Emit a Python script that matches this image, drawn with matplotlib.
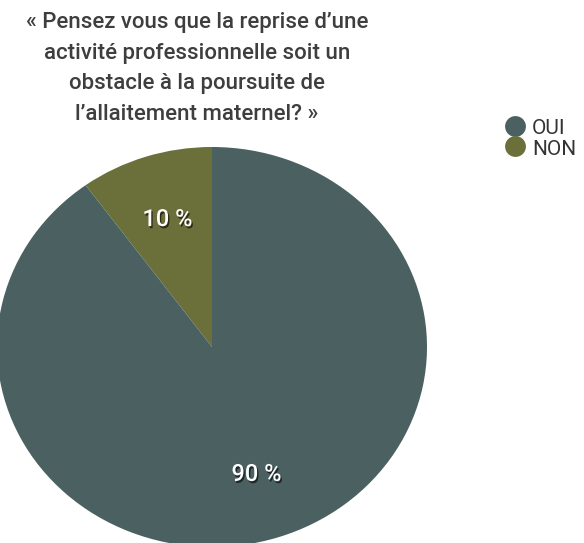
import numpy as np
import matplotlib.pyplot as plt
import matplotlib.patheffects as pe
from matplotlib.lines import Line2D

plt.rcParams['font.family'] = ['Roboto', 'DejaVu Sans']

labels = ["NON", "OUI"]
values = [10, 90]
colors = ["#6b703b", "#4a6061"]
title = ("« Pensez vous que la reprise d\u2019une\nactivité professionnelle soit un\n"
         "obstacle à la poursuite de\nl\u2019allaitement maternel? »")

W, H = 584, 543
fig = plt.figure(figsize=(W / 100, H / 100), dpi=100)

# pie is a bit wider than tall in the reference
cx, cy, rx, ry = 212, 347, 215, 200
ax = fig.add_axes([(cx - rx) / W, (H - cy - ry) / H, 2 * rx / W, 2 * ry / H])

wedges, texts, autotexts = ax.pie(values, colors=colors, startangle=90,
                                  autopct="%d %%", pctdistance=0.67,
                                  wedgeprops=dict(linewidth=0))
ax.set_aspect('auto')
ax.set_xlim(-1, 1)
ax.set_ylim(-1, 1)

for t in autotexts:
    t.set_color("white")
    t.set_fontsize(17)
    t.set_fontweight("medium")
    t.set_path_effects([pe.withSimplePatchShadow(offset=(1, -1.5), shadow_rgbFace="black", alpha=0.6)])

fig.text(197 / W, 1 - 12 / H, title, ha="center", va="top", fontsize=16,
         fontweight="medium", color="#3e3e3e", linespacing=1.6)

handles = [Line2D([], [], linestyle="none", marker="o", markersize=15,
                  markerfacecolor=c, markeredgewidth=0) for c in colors[::-1]]
fig.legend(handles, labels[::-1], loc="upper left",
           bbox_to_anchor=(488 / W, 1 - 101 / H), frameon=False,
           fontsize=15, handlelength=1.0, handleheight=1.0, handletextpad=0.3,
           labelspacing=0.0, labelcolor="#333333", borderpad=0.3)

fig.savefig("out.png", dpi=100)
